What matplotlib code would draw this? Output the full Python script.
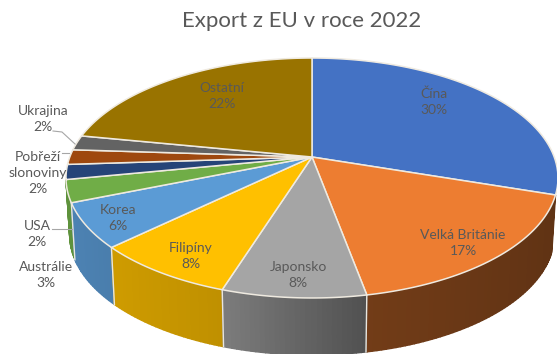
import matplotlib
matplotlib.use("Agg")
import matplotlib.pyplot as plt
import numpy as np
from matplotlib.patches import Polygon

# Data
names = ["Čína", "Velká Británie", "Japonsko", "Filipíny", "Korea", "Austrálie",
         "USA", "Pobřeží\nslonoviny", "Ukrajina", "Ostatní"]
values = [30, 17, 8, 8, 6, 3, 2, 2, 2, 22]
colors = ["#4472C4", "#ED7D31", "#A5A5A5", "#FFC000", "#5B9BD5", "#70AD47",
          "#264478", "#9E480E", "#636363", "#997300"]

# Label centres in pixels
label_x = [434, 463, 298, 191, 118, 46, 37, 38, 43, 222]
label_y = [102, 243, 275, 256, 218, 275, 234, 173, 119, 96]

# Pie geometry in pixels
cx, cy = 312, 157
rad_x, rad_y = 242.2, 116.3
persp = 0.175
depth = 57
shrink = 0.985
text_col = "#595959"

# Only these slices show a rim
rim_slices = [1, 2, 3, 4, 5]

plt.rcParams["font.family"] = ["Lato", "DejaVu Sans"]


def top_xy(theta):
    # theta runs clockwise from the back of the pie
    u, v = np.sin(theta), np.cos(theta)
    d = 1 + persp * v
    return cx + rad_x * u / d, cy - rad_y * v / d


def bottom_xy(theta):
    x, y = top_xy(theta)
    return cx + (x - cx) * shrink, y + depth


def side_shade(theta):
    return np.interp(np.sin(theta), [-1, -0.3, 0.2, 1], [0.85, 0.75, 0.48, 0.4])


fig = plt.figure(figsize=(5.57, 3.54), dpi=100)
ax = fig.add_axes([0, 0, 1, 1])
ax.set_xlim(0, 557)
ax.set_ylim(354, 0)
ax.axis("off")

edges = np.radians(np.cumsum([0] + values) * 3.6)

# Rim of the pie, back strips first so the front ones lie on top
strips = []
for i in rim_slices:
    angles = np.arange(np.degrees(edges[i]), np.degrees(edges[i + 1]), 1.0)
    for a in angles:
        t0 = np.radians(a)
        t1 = min(np.radians(a + 1.0), edges[i + 1])
        strips.append((np.cos(t0), t0, t1, i))
strips.sort(key=lambda s: -s[0])
for _, t0, t1, i in strips:
    base = np.array(matplotlib.colors.to_rgb(colors[i]))
    shade = base * side_shade((t0 + t1) / 2)
    pts = [top_xy(t0), top_xy(t1), bottom_xy(t1), bottom_xy(t0)]
    ax.add_patch(Polygon(pts, closed=True, facecolor=shade, edgecolor=shade, lw=1.0, zorder=2))

# White seams down the rim at the front slice boundaries
for i in rim_slices:
    x0, y0 = top_xy(edges[i])
    x1, y1 = bottom_xy(edges[i])
    if i > 1:
        ax.plot([x0, x1], [y0, y1], color="#e9e6df", lw=1.0, zorder=3)

# Top faces
for i in range(len(values)):
    theta = np.linspace(edges[i], edges[i + 1], 60)
    xs, ys = top_xy(theta)
    pts = [(cx, cy)] + list(zip(xs, ys))
    ax.add_patch(Polygon(pts, closed=True, facecolor=colors[i], edgecolor="#efeae0",
                         lw=1.1, joinstyle="round", zorder=4))

# Leader lines for the small slices
ax.plot([53, 62, 75], [131, 132, 144], color="#a6a6a6", lw=0.8, zorder=5)
ax.plot([62, 69], [153, 153], color="#a6a6a6", lw=0.8, zorder=5)
ax.plot([52, 72], [229, 229], color="#a6a6a6", lw=0.8, zorder=5)

# Labels
for name, val, x, y in zip(names, values, label_x, label_y):
    ax.text(x, y, f"{name}\n{val}%", ha="center", va="center", fontsize=10,
            color=text_col, linespacing=1.38, zorder=6)

ax.text(302, 21, "Export z EU v roce 2022", ha="center", va="center",
        fontsize=16, color=text_col)

fig.savefig("out.png", dpi=100)
